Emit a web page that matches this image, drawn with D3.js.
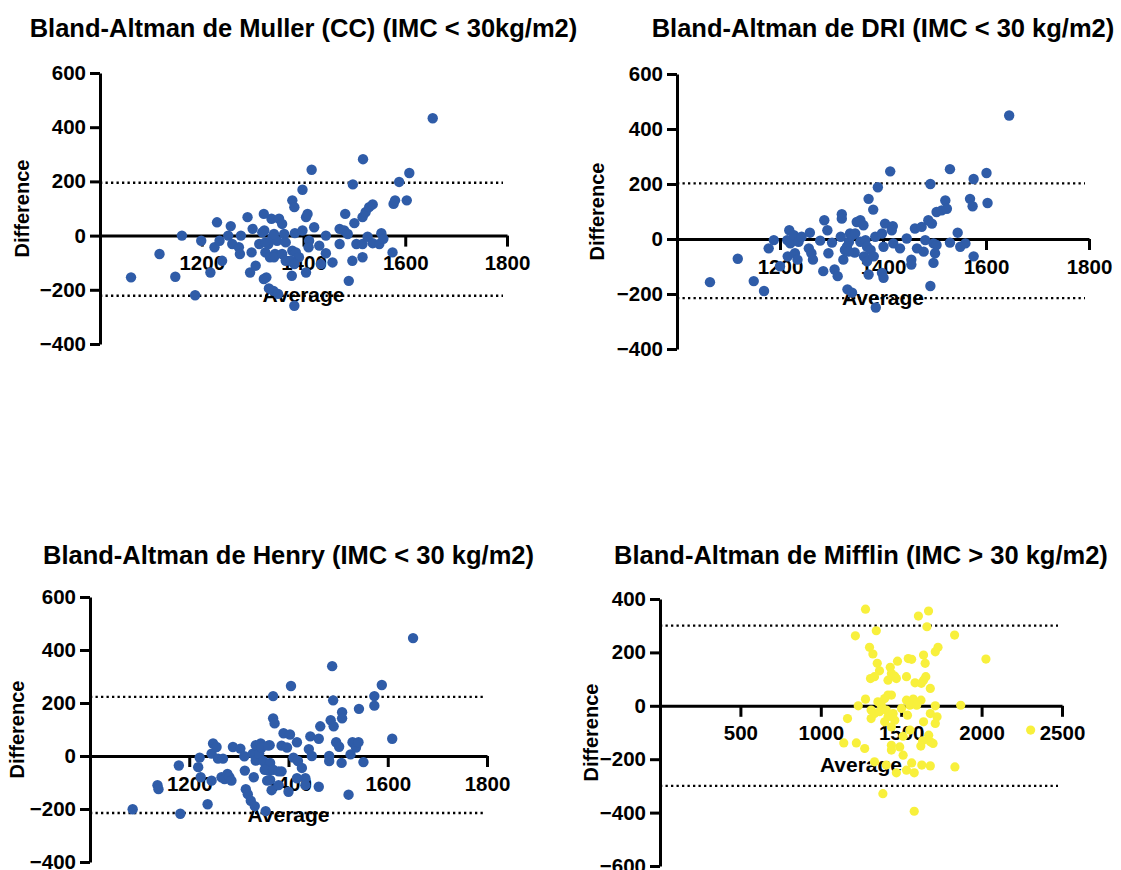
<!DOCTYPE html>
<html>
<head>
<meta charset="utf-8">
<script src="https://cdn.jsdelivr.net/npm/d3@7"></script>
<style>
  body { margin: 0; background: #fff; }
  svg text { font-family: "Liberation Sans", Arial, sans-serif; font-weight: bold; fill: #000; }
</style>
</head>
<body>
<svg id="chart" width="1121" height="870"></svg>
<script>
// titles of the four Bland-Altman plots
let titles = [
    "Bland-Altman de Muller (CC) (IMC < 30kg/m2)",
    "Bland-Altman de DRI (IMC < 30 kg/m2)",
    "Bland-Altman de Henry (IMC < 30 kg/m2)",
    "Bland-Altman de Mifflin (IMC > 30 kg/m2)"
];

// [average, difference]
let mullerPoints = [
    [1061,-154],[1117,-68],[1148,-152],[1161,0],[1187,-220],[1199,-19],[1217,-136],[1225,-43],[1230,49],
    [1235,-19],[1240,-93],[1252,0],[1257,35],[1260,-31],[1273,-43],[1275,-68],[1277,0],[1290,68],[1295,-136],
    [1298,-62],[1300,25],[1306,-111],[1313,-31],[1322,80],[1323,19],[1325,-62],[1327,-154],[1331,-31],
    [1334,-80],[1337,62],[1339,-6],[1344,-68],[1348,-19],[1341,-204],[1319,12],[1325,-25],[1342,6],[1342,-80],
    [1352,62],[1358,43],[1362,6],[1365,-25],[1358,-68],[1365,-93],[1322,-160],[1332,-195],[1350,-215],
    [1382,-259],[1378,130],[1382,105],[1398,169],[1416,243],[1405,68],[1408,80],[1421,31],[1383,9],[1398,19],
    [1411,-19],[1410,-43],[1431,-37],[1444,0],[1378,-56],[1385,-62],[1391,-80],[1375,-93],[1382,-105],
    [1405,-136],[1377,-148],[1434,-105],[1444,-65],[1457,-99],[1471,-31],[1471,25],[1480,19],[1482,80],
    [1487,6],[1500,46],[1497,189],[1517,282],[1489,-167],[1496,-93],[1504,-31],[1516,-80],[1516,-31],
    [1516,68],[1522,86],[1529,105],[1536,115],[1526,-4],[1536,-28],[1549,-31],[1553,9],[1557,-12],
    [1575,-62],[1577,117],[1580,130],[1588,198],[1603,130],[1608,231],[1654,433]
];

let driPoints = [
    [1064,-157],[1118,-72],[1149,-153],[1169,-189],[1178,-34],[1188,-4],[1200,-99],[1215,-63],[1214,-4],
    [1218,32],[1220,-16],[1227,14],[1229,-52],[1234,-75],[1236,-10],[1242,8],[1256,-34],[1258,23],[1261,-52],
    [1264,-75],[1278,-6],[1284,-117],[1286,68],[1292,32],[1294,-52],[1301,-13],[1306,-111],[1312,-135],
    [1318,8],[1320,90],[1320,74],[1323,-75],[1326,-40],[1331,-183],[1334,-10],[1336,20],[1340,-195],
    [1345,-49],[1349,62],[1330,-28],[1333,-46],[1340,14],[1346,20],[1356,-10],[1356,68],[1362,50],[1366,-4],
    [1369,-28],[1363,-63],[1369,-81],[1376,-40],[1382,-63],[1372,-129],[1386,-249],[1372,146],[1381,107],
    [1390,188],[1414,246],[1385,8],[1398,20],[1404,56],[1419,47],[1417,32],[1420,-16],[1401,-28],[1398,-123],
    [1401,-141],[1433,-34],[1446,2],[1455,-75],[1455,-93],[1462,38],[1475,44],[1466,-34],[1479,-46],
    [1482,-4],[1488,68],[1495,56],[1492,200],[1498,-87],[1492,-171],[1498,-16],[1504,-22],[1501,-52],
    [1504,98],[1514,104],[1521,140],[1524,110],[1530,254],[1530,-13],[1545,23],[1550,-28],[1560,-16],
    [1569,146],[1574,119],[1576,218],[1576,-63],[1601,240],[1603,131],[1645,449]
];

let henryPoints = [
    [1086,-201],[1136,-110],[1138,-125],[1179,-36],[1182,-218],[1218,-42],[1221,-6],[1223,-80],[1237,-182],
    [1245,-93],[1245,9],[1248,47],[1255,34],[1258,-10],[1268,-10],[1265,-80],[1271,-87],[1277,-68],
    [1281,-80],[1285,-93],[1288,34],[1303,28],[1311,-1],[1312,-55],[1314,-125],[1318,-144],[1324,-169],
    [1328,9],[1330,-80],[1334,-17],[1334,41],[1341,9],[1344,47],[1332,-189],[1354,-208],[1357,-93],
    [1360,-55],[1362,41],[1346,32],[1359,39],[1369,226],[1369,142],[1372,123],[1349,-19],[1363,-26],
    [1352,-52],[1369,-52],[1380,-58],[1386,-58],[1363,-90],[1366,-129],[1380,-110],[1400,-135],[1390,86],
    [1405,264],[1403,81],[1386,39],[1397,32],[1410,-6],[1417,52],[1419,-19],[1427,-45],[1434,-84],
    [1434,-110],[1417,-84],[1441,26],[1444,74],[1447,0],[1461,65],[1464,112],[1461,-116],[1482,0],
    [1482,-19],[1485,135],[1488,339],[1490,210],[1491,112],[1496,52],[1502,35],[1507,-26],[1508,165],
    [1508,142],[1521,-146],[1525,6],[1529,52],[1536,32],[1541,52],[1542,178],[1551,-23],[1573,190],
    [1573,226],[1588,268],[1609,65],[1651,445]
];

let mifflinPoints = [
    [1278,362],[1345,281],[1215,262],[1607,336],[1670,355],[1660,296],[1832,265],[1303,219],[1324,194],
    [1729,219],[1712,202],[2027,175],[1544,177],[1565,174],[1477,167],[1639,190],[1649,159],[1351,159],
    [1432,144],[1365,131],[1439,121],[1460,111],[1309,102],[1334,109],[1418,96],[1470,102],[1533,109],
    [1653,109],[1639,96],[1586,86],[1625,84],[1681,65],[1418,40],[1439,40],[1397,27],[1278,25],[1355,15],
    [1376,2],[1233,0],[1533,21],[1575,25],[1623,21],[1554,2],[1596,2],[1712,0],[1870,2],[1313,-16],
    [1334,-29],[1365,-22],[1407,-16],[1450,-29],[1502,-10],[1539,-35],[1313,-48],[1418,-41],[1460,-54],
    [1397,-60],[1681,-29],[1723,-41],[1639,-60],[1712,-66],[1166,-48],[1439,-79],[1554,-91],[1512,-114],
    [1671,-110],[1681,-135],[1698,-141],[1633,-131],[1622,-151],[1143,-139],[1221,-139],[1273,-160],
    [1439,-148],[1491,-154],[1439,-166],[1512,-185],[1565,-214],[1628,-222],[1681,-225],[1533,-241],
    [1581,-251],[1470,-251],[1834,-229],[1386,-329],[1581,-395],[2305,-91],[1334,-210],[1407,-222]
];

// limits of agreement (dotted lines)
let mullerLimits = [195, -222];
let driLimits = [202, -215];
let henryLimits = [223, -215];
let mifflinLimits = [300, -300];

// tick labels
let yTicksA = [-400, -200, 0, 200, 400, 600];
let yTicksB = [-600, -400, -200, 0, 200, 400];
let xTicksA = [1200, 1400, 1600, 1800];
let xTicksB = [500, 1000, 1500, 2000, 2500];

const blue = "#2f5ca8";
const yellow = "#f8f03c";

var svg = d3.select("#chart");

// one entry per panel: where it sits on the page
let panels = [
    { title: titles[0], points: mullerPoints, limits: mullerLimits, xDomain: [1000, 1800], yDomain: [-400, 600],
      xTicks: xTicksA, yTicks: yTicksA, x0: 100, x1: 507, yTop: 73, yBot: 344, titleY: 37, labelX: 22, color: blue, r: 5.2 },
    { title: titles[1], points: driPoints, limits: driLimits, xDomain: [1000, 1800], yDomain: [-400, 600],
      xTicks: xTicksA, yTicks: yTicksA, x0: 677, x1: 1089, yTop: 74, yBot: 349, titleY: 37, labelX: 597, color: blue, r: 5.2 },
    { title: titles[2], points: henryPoints, limits: henryLimits, xDomain: [1000, 1800], yDomain: [-400, 600],
      xTicks: xTicksA, yTicks: yTicksA, x0: 90, x1: 487, yTop: 597, yBot: 862, titleY: 564, labelX: 17, color: blue, r: 5.2 },
    { title: titles[3], points: mifflinPoints, limits: mifflinLimits, xDomain: [0, 2500], yDomain: [-600, 400],
      xTicks: xTicksB, yTicks: yTicksB, x0: 660, x1: 1062, yTop: 599, yBot: 866, titleY: 564, labelX: 591, color: yellow, r: 4.6 }
];

function styleAxis(g) {
    g.selectAll(".domain").attr("stroke", "#000").attr("stroke-width", 3);
    g.selectAll(".tick line").attr("stroke", "#000").attr("stroke-width", 3);
    g.selectAll(".tick text")
        .style("font-size", "20.5px")
        .style("font-family", "'Liberation Sans', Arial, sans-serif")
        .style("font-weight", "bold")
        .attr("fill", "#000");
}

function addPanel(p) {
    let g = svg.append("g");

    let xScale = d3.scaleLinear().domain(p.xDomain).range([p.x0, p.x1]);
    let yScale = d3.scaleLinear().domain(p.yDomain).range([p.yBot, p.yTop]);
    let cx = (p.x0 + p.x1) / 2;

    // title
    g.append("text")
        .attr("x", cx)
        .attr("y", p.titleY)
        .attr("text-anchor", "middle")
        .style("font-size", "25.5px")
        .text(p.title);

    // dotted limits of agreement
    g.selectAll(".loa")
        .data(p.limits)
        .join("line")
        .attr("class", "loa")
        .attr("x1", p.x0)
        .attr("x2", p.x1 - 4)
        .attr("y1", d => yScale(d))
        .attr("y2", d => yScale(d))
        .attr("stroke", "#000")
        .attr("stroke-width", 2.3)
        .attr("stroke-dasharray", "2.3,3.2");

    // y axis
    let yAxis = d3.axisLeft(yScale)
        .tickValues(p.yTicks)
        .tickSize(10)
        .tickSizeOuter(0)
        .tickPadding(4);
    g.append("g")
        .attr("transform", "translate(" + p.x0 + ",0)")
        .call(yAxis)
        .call(styleAxis);

    // x axis sits on difference = 0
    let xAxis = d3.axisBottom(xScale)
        .tickValues(p.xTicks)
        .tickSize(11)
        .tickSizeOuter(0)
        .tickPadding(9)
        .tickFormat(d3.format("d"));
    g.append("g")
        .attr("transform", "translate(0," + yScale(0) + ")")
        .call(xAxis)
        .call(styleAxis);

    // axis titles
    g.append("text")
        .attr("x", cx)
        .attr("y", yScale(0) + 66)
        .attr("text-anchor", "middle")
        .style("font-size", "21px")
        .text("Average");

    g.append("text")
        .attr("transform", "translate(" + p.labelX + "," + ((p.yTop + p.yBot) / 2) + ") rotate(-90)")
        .attr("text-anchor", "middle")
        .attr("dy", "0.35em")
        .style("font-size", "20px")
        .text("Difference");

    // points on top of everything
    g.selectAll(".pt")
        .data(p.points)
        .join("circle")
        .attr("class", "pt")
        .attr("cx", d => xScale(d[0]))
        .attr("cy", d => yScale(d[1]))
        .attr("r", p.r)
        .attr("fill", p.color);
}

panels.forEach(addPanel);
</script>
</body>
</html>
